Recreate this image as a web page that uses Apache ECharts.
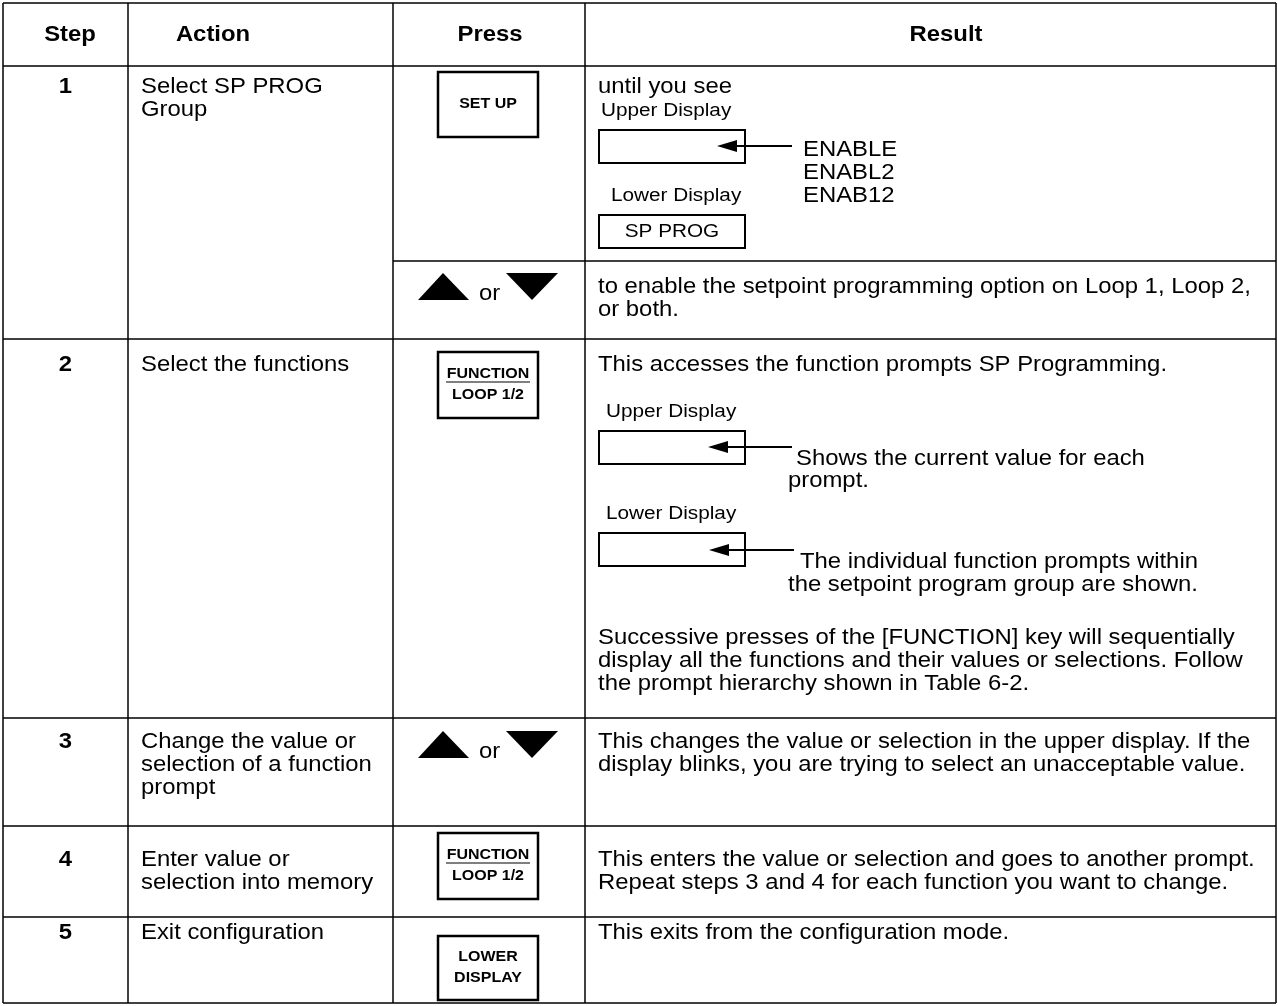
<!DOCTYPE html>
<html>
<head>
<meta charset="utf-8">
<script src="https://cdn.jsdelivr.net/npm/echarts@6/dist/echarts.min.js"></script>
<style>html,body{margin:0;padding:0;background:#fff}#c{width:1278px;height:1006px}</style>
</head>
<body>
<div id="c"></div>
<script>
// ---------- table content ----------
const headers = ['Step', 'Action', 'Press', 'Result'];
const steps = ['1', '2', '3', '4', '5'];
const actions = [
  ['Select SP PROG', 'Group'],
  ['Select the functions'],
  ['Change the value or', 'selection of a function', 'prompt'],
  ['Enter value or', 'selection into memory'],
  ['Exit configuration']
];
const keySetup = ['SET UP'];
const keyFunction = ['FUNCTION', 'LOOP 1/2'];
const keyLower = ['LOWER', 'DISPLAY'];
const orWord = 'or';
const untilText = 'until you see';
const upperLabel = 'Upper Display';
const lowerLabel = 'Lower Display';
const enableOptions = ['ENABLE', 'ENABL2', 'ENAB12'];
const spProg = 'SP PROG';
const result1b = ['to enable the setpoint programming option on Loop 1, Loop 2,', 'or both.'];
const result2Intro = 'This accesses the function prompts SP Programming.';
const result2Upper = ['Shows the current value for each', 'prompt.'];
const result2Lower = ['The individual function prompts within', 'the setpoint program group are shown.'];
const result2Outro = ['Successive presses of the [FUNCTION] key will sequentially',
  'display all the functions and their values or selections. Follow',
  'the prompt hierarchy shown in Table 6-2.'];
const result3 = ['This changes the value or selection in the upper display. If the',
  'display blinks, you are trying to select an unacceptable value.'];
const result4 = ['This enters the value or selection and goes to another prompt.',
  'Repeat steps 3 and 4 for each function you want to change.'];
const result5 = ['This exits from the configuration mode.'];

// ---------- layout ----------
const SX = 1.11;
const BODY = 21.5;
const LABEL = 18.7;
const KEY = 14.4;
const FONT = '"Liberation Sans", Arial, sans-serif';
const colX = [3, 128, 393, 585, 1276];
const headerX = [70, 213, 490, 946];
const rowY = [3, 66, 339, 718, 826, 917, 1003];
const subRowY = 261;
const LH = 23;

const els = [];
function txt(x, y, s, o) {
  o = o || {};
  const a = o.align || 'left';
  els.push({
    type: 'text', x: x, y: y, scaleX: SX, z: 10,
    style: {
      text: s, fill: '#000',
      font: (o.bold ? 'bold ' : '') + (o.size || BODY) + 'px ' + FONT,
      align: a, textAlign: a, verticalAlign: 'middle', textVerticalAlign: 'middle'
    }
  });
}
function lines(x, y0, arr, o) { arr.forEach((s, i) => txt(x, y0 + i * LH, s, o)); }
function line(x1, y1, x2, y2, w) {
  els.push({ type: 'line', z: 5, shape: { x1: x1, y1: y1, x2: x2, y2: y2 }, style: { stroke: '#000', lineWidth: w || 1.5 } });
}
function box(x, y, w, h, lw) {
  els.push({ type: 'rect', z: 5, shape: { x: x, y: y, width: w, height: h }, style: { fill: 'none', stroke: '#000', lineWidth: lw || 2 } });
}
function poly(pts) {
  els.push({ type: 'polygon', z: 6, shape: { points: pts }, style: { fill: '#000' } });
}
function arrow(tipX, endX, y) {
  line(tipX + 10, y, endX, y, 2);
  poly([[tipX, y], [tipX + 20, y - 6], [tipX + 20, y + 6]]);
}
function upDown(y) {
  poly([[418, y + 27], [443, y], [469, y + 27]]);
  txt(479, y + 21, orWord);
  poly([[506, y], [558, y], [532, y + 27]]);
}
function keyBox(y, h, labels, underlineFirst) {
  box(438, y, 100, h, 2.5);
  const cx = 488, cy = y + h / 2;
  const off = labels.length === 1 ? [0] : [-11, 10];
  labels.forEach((s, i) => txt(cx, cy + off[i], s, { bold: true, size: KEY, align: 'center' }));
  if (underlineFirst) line(cx - 42, cy + off[0] + 8, cx + 42, cy + off[0] + 8, 1.2);
}
function display(y, label, labelX, inner) {
  txt(labelX, y - 19, label, { size: LABEL });
  box(599, y, 146, 33, 2);
  if (inner) txt(672, y + 17, inner, { size: LABEL, align: 'center' });
}

// grid lines
colX.forEach(x => line(x, rowY[0], x, rowY[rowY.length - 1]));
line(colX[0], rowY[0], colX[4], rowY[0]);
rowY.slice(1).forEach(y => line(colX[0], y, colX[4], y));
line(colX[2], subRowY, colX[4], subRowY);

// header
headers.forEach((h, i) => txt(headerX[i], (rowY[0] + rowY[1]) / 2 + 1, h, { bold: true, align: 'center' }));

// step numbers & actions
const textOff = [21, 26, 24, 34, 16];
steps.forEach((s, i) => {
  const y = rowY[i + 1] + textOff[i];
  txt((colX[0] + colX[1]) / 2, y, s, { bold: true, align: 'center' });
  lines(141, y, actions[i]);
});

// row 1
keyBox(72, 65, keySetup, false);
txt(598, 87, untilText);
display(130, upperLabel, 601);
arrow(717, 792, 146);
lines(803, 150, enableOptions);
display(215, lowerLabel, 611, spProg);
upDown(273);
lines(598, 287, result1b);

// row 2
keyBox(352, 66, keyFunction, true);
txt(598, 365, result2Intro);
display(431, upperLabel, 606);
arrow(708, 792, 447);
txt(796, 459, result2Upper[0]);
txt(788, 481, result2Upper[1]);
display(533, lowerLabel, 606);
arrow(709, 794, 550);
txt(800, 562, result2Lower[0]);
txt(788, 585, result2Lower[1]);
lines(598, 638, result2Outro);

// row 3
upDown(731);
lines(598, 742, result3);

// row 4
keyBox(833, 66, keyFunction, true);
lines(598, 860, result4);

// row 5
keyBox(936, 64, keyLower, false);
lines(598, 933, result5);

const chart = echarts.init(document.getElementById('c'), null, { renderer: 'canvas' });
chart.setOption({ backgroundColor: '#fff', animation: false, graphic: { elements: els } });
</script>
</body>
</html>
